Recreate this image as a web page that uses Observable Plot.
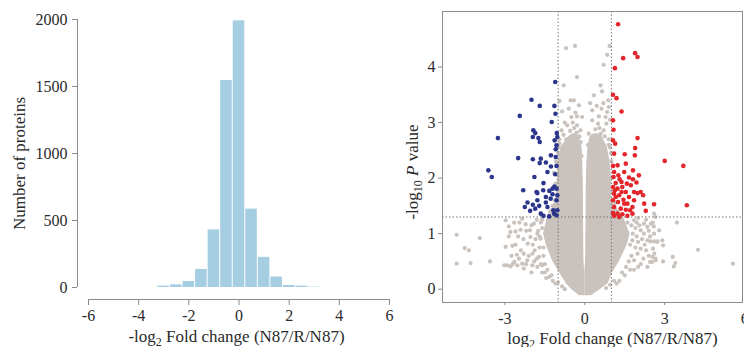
<!DOCTYPE html>
<html><head><meta charset="utf-8">
<script src="https://cdn.jsdelivr.net/npm/d3@7"></script>
<script src="https://cdn.jsdelivr.net/npm/@observablehq/plot@0.6"></script>
<style>
body{margin:0;background:#fff;}
#wrap{position:relative;width:744px;height:347px;overflow:hidden;background:#fff;}
#left{position:absolute;left:0;top:0;}
#right{position:absolute;left:390px;top:0;}
svg{overflow:visible}
</style></head><body><div id="wrap"><div id="left"></div><div id="right"></div></div>
<script>
// ---------- Histogram data ----------
const binStarts = [-3.25,-2.75,-2.25,-1.75,-1.25,-0.75,-0.25,0.25,0.75,1.25,1.75,2.25,2.75];
const binWidth = 0.5;
const binCounts = [10,20,45,135,430,1545,1990,585,225,78,15,10,3];
const histXTicks = [-6,-4,-2,0,2,4,6];
const histYTicks = [0,500,1000,1500,2000];

// ---------- Volcano data ----------
const volXTicks = [-3,0,3,6];
const volYTicks = [0,1,2,3,4];
const fcCut = [-1,1];
const pCut = [1.3];
// dense gray core, read as envelope rows [y, xLeft, xRight]
const coreLeft = [[-0.12,-0.2,0],[0.0,-0.5,0],[0.1,-0.7,0],[0.3,-0.95,0],[0.5,-1.2,-0.03],[0.8,-1.45,-0.04],[1.0,-1.55,-0.04],[1.3,-1.4,-0.05],[1.6,-1.08,-0.05],[2.0,-1.03,-0.06],[2.3,-1.0,-0.08],[2.55,-0.9,-0.1],[2.75,-0.6,-0.2],[2.8,-0.45,-0.35]];
const coreRight = [[-0.12,0,0.25],[0.0,0,0.6],[0.1,0,0.88],[0.3,0,1.05],[0.5,0.03,1.3],[0.8,0.04,1.6],[1.0,0.04,1.7],[1.3,0.05,1.45],[1.6,0.05,1.0],[2.0,0.06,1.0],[2.3,0.08,0.95],[2.55,0.12,0.85],[2.75,0.2,0.65],[2.8,0.35,0.5]];
const grayPts = [[-0.70,4.34],[-0.37,4.38],[0.93,4.38],[0.84,4.22],[0.71,4.04],[-0.29,3.82],[-0.79,3.67],[0.59,3.67],[0.65,3.56],[0.34,3.49],[0.88,3.40],[-0.95,3.39],[-0.53,3.40],[-0.41,3.40],[-0.22,3.31],[0.28,3.22],[0.63,3.25],[0.84,3.19],[0.90,3.28],[-0.50,3.10],[-0.29,3.11],[0.53,3.11],[0.78,3.10],[-0.66,2.95],[-0.29,2.95],[-0.16,2.86],[0.28,3.04],[0.50,2.98],[0.81,2.98],[-0.87,2.86],[0.71,2.86],[-0.95,2.7],[-0.8,2.78],[-0.55,2.85],[-0.4,2.9],[-0.2,2.75],[0.15,2.8],[0.4,2.88],[0.6,2.8],[0.9,2.7],[0.95,2.55],[-1.0,2.55],
[-0.85,3.2],[-0.6,3.25],[-0.35,3.18],[-0.75,3.0],[-0.45,3.0],[0.45,3.3],[0.7,3.35],[0.95,3.05],[0.2,3.35],[-0.1,3.1],
[-1.08,1.45],[-1.12,1.6],[-1.1,1.9],[-1.15,2.1],[-1.08,2.3],[-1.0,2.45],[-0.95,2.62],[-1.2,1.5],[-1.3,1.4],[-0.7,2.7],[-0.3,2.82],[-0.15,2.65],[-0.12,2.4],
[1.02,1.45],[1.05,1.75],[1.02,2.0],[1.0,2.3],[0.98,2.45],[0.9,2.6],[0.75,2.75],[0.3,2.7],[0.12,2.6],[0.55,2.9],[1.15,1.55],[1.2,1.25],[1.02,1.2],
[-4.81,0.98],[-3.94,0.92],[-4.51,0.74],[-4.35,0.70],[-4.81,0.46],[-4.29,0.47],[-3.56,0.50],[-2.97,1.24],[-2.85,1.13],[-2.6,1.04],[-2.41,1.07],[-2.79,1.03],[-2.97,0.76],[-2.72,0.78],[-2.6,0.80],[-2.91,0.43],[-2.79,0.41],[-2.64,0.49],[-2.47,0.55],[-2.53,0.43],[-2.35,0.46],[-2.29,0.64],[-2.14,0.82],[-2.04,0.94],[-2.06,1.06],[-2.22,1.17],[-2.35,1.27],[-1.91,1.18],[-1.78,1.00],[-1.66,0.91],[-1.88,0.70],[-1.72,0.58],[-2.16,0.52],[-1.97,0.43],[-1.78,0.40],[-1.60,0.43],[-2.29,0.37],[-3.02,0.43],[-2.71,0.45],[-1.96,0.64],[-1.34,0.22],[-1.5,0.3],[-1.2,0.15],[-1.1,0.1],[-1.8,1.25],[-1.65,1.2],[-2.0,0.3],[-1.45,0.2],[-1.7,0.75],[-1.6,1.1],[-1.55,0.6],
[-2.45,1.2],[-2.2,1.05],[-2.3,0.9],[-2.5,0.95],[-2.0,1.15],[-1.85,0.9],[-1.95,0.8],[-2.1,0.6],[-2.4,0.7],[-1.8,0.55],[-1.65,0.45],[-1.9,0.5],[-2.2,0.45],[-1.55,0.75],[-1.75,1.05],[-1.6,1.25],[-1.7,0.95],[-2.55,0.62],[-2.75,0.6],[-2.85,0.95],[-2.65,1.2],[-1.5,0.45],[-1.4,0.35],[-1.6,0.3],[-1.25,0.25],[-1.0,0.12],[-0.85,0.05],[-0.75,0.0],
[2.65,1.30],[2.59,1.13],[3.46,1.20],[2.46,0.86],[2.6,0.86],[2.73,0.86],[2.94,0.79],[2.56,0.73],[2.61,0.64],[2.65,0.55],[2.53,0.49],[2.94,0.50],[3.30,0.58],[3.40,0.47],[3.34,0.41],[4.25,0.71],[5.56,0.46],[2.6,1.36],[2.91,0.88],[2.45,0.49],[2.35,0.40],[2.54,0.58],[2.66,0.52],[2.79,1.06],[2.35,0.88],[2.22,1.0],[2.1,0.73],[1.98,0.64],[1.85,0.52],[1.79,0.88],[2.6,1.0],[2.48,1.18],[2.22,1.18],[2.1,1.06],[1.85,1.24],[2.72,0.85],[2.0,1.28],[2.3,1.25],[1.9,1.1],[2.0,0.85],[2.3,0.7],[2.2,0.55],[1.7,0.35],[1.5,0.25],[1.3,0.15],[1.2,0.1],[2.0,0.4],[2.4,1.05],[1.75,1.15],[1.95,0.95],
[1.75,0.6],[1.9,0.75],[2.05,1.15],[2.15,0.9],[2.25,0.8],[1.8,1.0],[1.7,0.8],[1.65,0.5],[1.55,0.4],[1.4,0.3],[1.85,0.35],[2.45,0.95],[2.55,1.2],[2.35,1.12],[1.95,1.2],[1.6,1.2],[2.1,0.45],[2.4,0.6],[1.1,0.15],[0.95,0.08],[0.8,0.02]];
const bluePts = [[-1.11,3.73],[-2.0,3.41],[-1.69,3.30],[-1.14,3.30],[-2.44,3.12],[-1.10,3.16],[-1.24,3.01],[-3.26,2.72],[-1.93,2.86],[-1.86,2.81],[-1.95,2.74],[-1.74,2.72],[-1.69,2.65],[-1.05,2.81],[-1.03,2.74],[-1.13,2.68],[-1.06,2.59],[-1.09,2.52],[-2.50,2.36],[-1.95,2.34],[-1.65,2.35],[-1.69,2.27],[-1.46,2.28],[-1.27,2.41],[-1.09,2.38],[-1.27,2.21],[-1.06,2.22],[-1.40,2.11],[-3.62,2.14],[-3.49,2.02],[-1.89,2.02],[-1.11,2.07],[-2.31,1.78],[-1.55,1.91],[-1.21,1.81],[-1.14,1.85],[-1.78,1.73],[-1.56,1.78],[-1.33,1.77],[-1.81,1.75],[-1.21,1.71],[-1.06,1.81],[-1.03,1.69],[-1.28,1.63],[-1.06,1.60],[-2.15,1.56],[-1.95,1.52],[-1.46,1.56],[-2.25,1.48],[-1.86,1.45],[-1.71,1.50],[-2.05,1.41],[-1.40,1.48],[-1.18,1.42],[-1.03,1.42],[-1.15,1.36],[-1.65,1.36],[-1.55,1.32],[-1.34,1.31],[-1.06,1.33],[-1.78,1.60],[-1.46,1.66]];
const redPts = [[1.25,4.77],[1.44,4.16],[1.89,4.25],[1.98,4.18],[1.13,3.98],[1.06,3.50],[1.19,3.44],[1.38,3.20],[1.06,3.04],[1.08,2.87],[1.06,2.68],[1.14,2.62],[1.98,2.72],[1.89,2.54],[1.88,2.41],[1.50,2.43],[1.10,2.44],[3.0,2.31],[3.70,2.22],[1.06,2.22],[1.23,2.23],[1.54,2.26],[1.81,2.14],[1.26,2.05],[1.08,2.02],[2.03,2.05],[1.66,2.01],[1.81,1.98],[1.16,1.91],[1.38,1.93],[1.58,1.90],[1.94,1.92],[2.10,1.75],[2.19,1.69],[1.98,1.73],[1.85,1.75],[1.06,1.84],[1.23,1.81],[1.41,1.84],[1.54,1.75],[1.10,1.72],[1.29,1.69],[1.66,1.66],[1.06,1.60],[1.25,1.57],[1.45,1.61],[1.60,1.54],[2.60,1.53],[3.83,1.51],[1.79,1.48],[1.10,1.48],[1.35,1.45],[1.54,1.43],[2.29,1.41],[1.70,1.42],[1.06,1.37],[1.23,1.36],[1.41,1.35],[1.10,1.32],[1.60,1.32],[1.79,1.36],[1.29,1.30],[1.48,1.54],[1.16,1.66],[1.38,1.75],[1.73,1.87],[1.31,1.98],[1.10,2.11],[1.48,2.11],[1.13,1.78],[1.85,1.60],[2.23,1.54]];

// ---------- styling ----------
const FONT = "'Liberation Serif','Times New Roman',serif";
const AXIS = "#8c8c8c";
const TEXT = "#2a2a2a";
const BAR = "#a6cee3";
const GRAY = "#c9c2bd";
const BLUE = "#2b358c";
const RED = "#e3262b";

const bins = binStarts.map((s,i)=>({x1:s, x2:s+binWidth, count:binCounts[i]}));
const hyph = d => String(d);

const leftTitleX = "-log2 Fold change (N87/R/N87)";
const leftTitleY = "Number of proteins";
const rightTitleX = "log2 Fold change (N87/R/N87)";
const rightTitleY = "-log10 P value";

const left = Plot.plot({
  width:390, height:347, marginLeft:77, marginRight:1, marginTop:19, marginBottom:48,
  style:{fontFamily:FONT, fontSize:"16px", color:TEXT, background:"transparent"},
  x:{domain:[-6,6], range:[88,389]},
  y:{domain:[0,2000], range:[287,19]},
  marks:[
    Plot.rectY(bins,{x1:"x1", x2:"x2", y:"count", fill:BAR, insetLeft:0.5, insetRight:0.5}),
    Plot.ruleY([0],{x1:-6, x2:6, dy:12, stroke:AXIS}),
    Plot.ruleX([-6],{y1:0, y2:2000, dx:-11, stroke:AXIS}),
    Plot.axisX({ticks:histXTicks, tickFormat:hyph, tickSize:6, tickPadding:4, stroke:AXIS, fill:TEXT, label:null, fontSize:16}),
    Plot.axisY({ticks:histYTicks, tickFormat:hyph, tickSize:5, tickPadding:5, stroke:AXIS, fill:TEXT, label:null, fontSize:16}),
    Plot.text([leftTitleY],{frameAnchor:"left", textAnchor:"middle", lineAnchor:"middle", rotate:-90, dx:-58, dy:4, fontSize:17, fill:TEXT}),
    Plot.text([leftTitleX],{frameAnchor:"bottom", textAnchor:"middle", lineAnchor:"middle", dx:3, dy:37, fontSize:17, fill:TEXT})
  ]
});
document.getElementById("left").appendChild(left);

const right = Plot.plot({
  width:354, height:347, marginLeft:52, marginRight:2, marginTop:11, marginBottom:45,
  style:{fontFamily:FONT, fontSize:"16px", color:TEXT, background:"transparent"},
  x:{domain:[-5.34,5.92]},
  y:{domain:[-0.24,5.0]},
  marks:[
    Plot.areaX(coreLeft,{y:d=>d[0], x1:d=>d[1], x2:d=>d[2], fill:GRAY}),
    Plot.areaX(coreRight,{y:d=>d[0], x1:d=>d[1], x2:d=>d[2], fill:GRAY}),
    Plot.dot(grayPts,{x:d=>d[0], y:d=>d[1], r:2.1, fill:GRAY}),
    Plot.ruleX(fcCut,{stroke:"#777", strokeDasharray:"1.5,2"}),
    Plot.ruleY(pCut,{stroke:"#777", strokeDasharray:"1.5,2"}),
    Plot.dot(bluePts,{x:d=>d[0], y:d=>d[1], r:2.3, fill:BLUE}),
    Plot.dot(redPts,{x:d=>d[0], y:d=>d[1], r:2.3, fill:RED}),
    Plot.frame({stroke:AXIS}),
    Plot.axisX({ticks:volXTicks, tickFormat:hyph, tickSize:3, tickPadding:7, stroke:AXIS, fill:TEXT, label:null, fontSize:16}),
    Plot.axisY({ticks:volYTicks, tickFormat:hyph, tickSize:4, tickPadding:3, stroke:AXIS, fill:TEXT, label:null, fontSize:16}),
    Plot.text([rightTitleY],{frameAnchor:"left", textAnchor:"middle", lineAnchor:"middle", rotate:-90, dx:-30, dy:15, fontSize:17, fill:TEXT}),
    Plot.text([rightTitleX],{frameAnchor:"bottom", textAnchor:"middle", lineAnchor:"middle", dx:20, dy:36, fontSize:17, fill:TEXT})
  ]
});
document.getElementById("right").appendChild(right);

// rich text (subscripts, italic P)
function richen(svg, plain, html){
  d3.select(svg).selectAll("text").filter(function(){return this.textContent===plain;}).html(html);
}
const sub = n => `<tspan dy="4" font-size="12">${n}</tspan><tspan dy="-4">`;
richen(left, leftTitleX, `-log${sub(2)} Fold change (N87/R/N87)</tspan>`);
richen(right, rightTitleX, `log${sub(2)} Fold change (N87/R/N87)</tspan>`);
richen(right, rightTitleY, `-log${sub(10)} </tspan><tspan font-style="italic">P</tspan><tspan> value</tspan>`);
</script>
</body></html>
